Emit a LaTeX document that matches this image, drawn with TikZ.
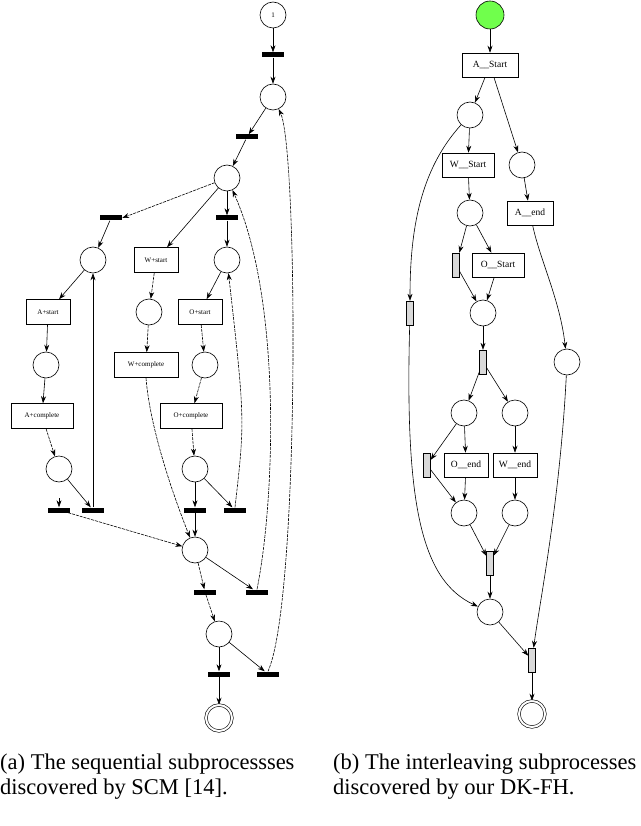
\documentclass[tikz,border=0pt]{standalone}
\usepackage{fontspec}
\setmainfont{Liberation Serif}
\usetikzlibrary{arrows.meta}
\begin{document}
\begin{tikzpicture}[x=1pt,y=-1pt,
 pl/.style={circle,draw,minimum size=26pt,inner sep=0pt,line width=0.6pt},
 bar/.style={fill=black,minimum width=22pt,minimum height=5pt,inner sep=0pt},
 lbox/.style={draw,minimum width=44pt,minimum height=25pt,inner sep=1pt,font=\fontsize{7}{8}\selectfont,line width=0.6pt},
 rbox/.style={draw,minimum height=24pt,inner sep=2pt,font=\fontsize{9.5}{11}\selectfont,line width=0.6pt},
 gbar/.style={draw,fill=gray!30,minimum width=7pt,minimum height=24pt,inner sep=0pt},
 ar/.style={-{Stealth[length=7pt,width=5pt]},line width=0.6pt},
 da/.style={ar,dashed,dash pattern=on 3pt off 1pt}]
\clip (0,0) rectangle (640,826);
\useasboundingbox (0,0) rectangle (640,826);
% ---------- left
\node[pl,minimum size=26pt] (a0) at (273,15) {\fontsize{7}{8}\selectfont 1};
\node[bar] (at1) at (273,55) {};
\node[pl] (a1) at (273,97) {};
\node[bar] (at2) at (247,137) {};
\node[pl] (a2) at (227,178) {};
\node[bar] (at3) at (111,218) {};
\node[bar] (at4) at (227,218) {};
\node[pl] (a3) at (93,260) {};
\node[lbox] (wst) at (156,260) {W+start};
\node[pl] (a4) at (227,260) {};
\node[lbox] (ast) at (48,312) {A+start};
\node[pl] (a5) at (149,312) {};
\node[lbox] (ost) at (200,312) {O+start};
\node[pl] (a6) at (46,365) {};
\node[lbox,minimum width=64pt] (wco) at (146,365) {W+complete};
\node[pl] (a7) at (205,365) {};
\node[lbox,minimum width=62pt] (aco) at (42,416) {A+complete};
\node[lbox,minimum width=62pt] (oco) at (191,416) {O+complete};
\node[pl] (a8) at (59,469) {};
\node[pl] (a9) at (195,469) {};
\node[bar] (at5) at (59,510) {};
\node[bar] (at6) at (93,510) {};
\node[bar] (at7) at (195,510) {};
\node[bar] (at8) at (235,510) {};
\node[pl] (a10) at (195,550) {};
\node[bar] (at9) at (205,592) {};
\node[bar] (at10) at (257,592) {};
\node[pl] (a11) at (219,634) {};
\node[bar] (at11) at (219,674) {};
\node[bar] (at12) at (268,674) {};
\node[pl,double,double distance=2pt] (aend) at (219,718) {};
\draw[ar] (a0)--(at1); \draw[ar] (at1)--(a1);
\draw[ar] (a1)--(at2); \draw[ar] (at2)--(a2);
\draw[da] (a2)--(at3.east); \draw[ar] (a2)--(at4); \draw[ar] (at3)--(a3);
\draw[ar] (a2)--(wst); \draw[ar] (at4)--(a4);
\draw[ar] (a3)--(ast); \draw[da] (wst)--(a5); \draw[ar] (a4)--(ost);
\draw[ar] (ast)--(a6); \draw[da] (a5)--(wco); \draw[da] (ost)--(a7);
\draw[ar] (a6)--(aco); \draw[da] (a7)--(oco);
\draw[da] (aco)--(a8); \draw[da] (oco)--(a9);
\draw[ar] (a8)--(at6); \draw[ar] (a9)--(at7); \draw[ar] (a9)--(at8);
\draw[ar] (at6.north)--(a3.south);
\draw[da] (at8.north) .. controls (245,420) .. (a4);
\draw[da] (at5)--(a10); \draw[ar] (at7)--(a10);
\draw[da] (wco.south) .. controls (150,430) and (175,500) .. (a10);
\draw[da] (a10)--(at9); \draw[ar] (a10)--(at10);
\draw[da] (at9)--(a11);
\draw[ar] (a11)--(at11); \draw[ar] (a11)--(at12); \draw[ar] (at11)--(aend);
\draw[da] (at10.north) .. controls (275,500) and (282,300) .. (a2);
\draw[da] (at12.north) .. controls (300,600) and (298,150) .. (a1);
\draw[ar] (59,498)--(at5);
% ---------- right
\node[pl,fill=green!80!yellow!70,minimum size=28pt] (b0) at (490,15) {};
\node[rbox,minimum width=56pt] (bas) at (490,65) {A\_\_Start};
\node[pl] (b1) at (470,115) {};
\node[rbox,minimum width=52pt] (bws) at (468,165) {W\_\_Start};
\node[pl] (b2) at (522,165) {};
\node[rbox,minimum width=46pt] (bae) at (530,213) {A\_\_end};
\node[pl] (b3) at (470,213) {};
\node[gbar] (bt1) at (456,265) {};
\node[rbox,minimum width=52pt] (bos) at (498,265) {O\_\_Start};
\node[pl] (b4) at (483,313) {};
\node[gbar] (bt2) at (410,313) {};
\node[pl] (b5) at (567,362) {};
\node[gbar] (bt3) at (483,362) {};
\node[pl] (b6) at (464,413) {};
\node[pl] (b7) at (515,413) {};
\node[gbar] (bt4) at (427,465) {};
\node[rbox,minimum width=44pt] (boe) at (466,465) {O\_\_end};
\node[rbox,minimum width=44pt] (bwe) at (515,465) {W\_\_end};
\node[pl] (b8) at (464,513) {};
\node[pl] (b9) at (515,513) {};
\node[gbar] (bt5) at (490,563) {};
\node[pl] (b10) at (490,612) {};
\node[gbar] (bt6) at (532,660) {};
\node[pl,double,double distance=2pt] (bend) at (532,714) {};
\draw[ar] (b0)--(bas); \draw[ar] (bas)--(b1); \draw[ar] (bas)--(b2);
\draw[ar] (b1)--(bws); \draw[ar] (bws)--(b3); \draw[ar] (b2)--(bae);
\draw[ar] (b3)--(bt1); \draw[ar] (b3)--(bos);
\draw[ar] (bt1)--(b4); \draw[ar] (bos)--(b4); \draw[ar] (b4)--(bt3);
\draw[ar] (bt3)--(b6); \draw[ar] (bt3)--(b7);
\draw[ar] (b6)--(bt4); \draw[ar] (b6)--(boe); \draw[ar] (b7)--(bwe);
\draw[ar] (bt4)--(b8); \draw[ar] (boe)--(b8); \draw[ar] (bwe)--(b9);
\draw[ar] (b8)--(bt5); \draw[ar] (b9)--(bt5); \draw[ar] (bt5)--(b10);
\draw[ar] (b10)--(bt6); \draw[ar] (bt6)--(bend);
\draw[ar] (b1) .. controls (420,170) and (410,230) .. (bt2);
\draw[ar] (bt2) .. controls (405,500) and (420,580) .. (b10);
\draw[ar] (bae) .. controls (540,260) and (560,300) .. (b5);
\draw[ar] (b5) .. controls (560,500) and (540,600) .. (bt6);
% ---------- captions
\node[anchor=west,align=left,inner sep=0pt,font=\fontsize{22.5}{25}\selectfont] (c1) at (0,777) {(a) The sequential subprocessses\\discovered by SCM [14].};
\node[anchor=west,align=left,inner sep=0pt,font=\fontsize{22.5}{25}\selectfont] (c2) at (333,777) {(b) The interleaving subprocesses\\discovered by our DK-FH.};
\end{tikzpicture}
\end{document}
